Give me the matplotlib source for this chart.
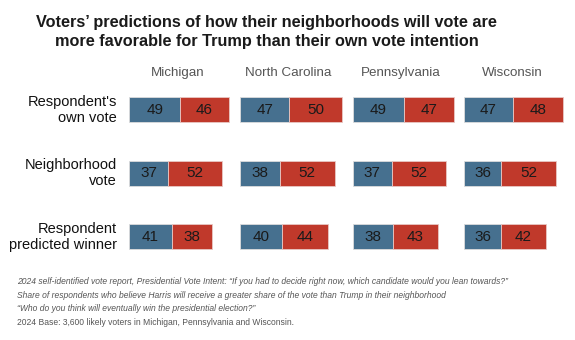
import matplotlib
matplotlib.use("Agg")
import matplotlib.pyplot as plt
from matplotlib.transforms import blended_transform_factory

states = ["Michigan", "North Carolina", "Pennsylvania", "Wisconsin"]
rows = ["Respondent's\nown vote", "Neighborhood\nvote", "Respondent\npredicted winner"]
harris = [
    [49, 37, 41],
    [47, 38, 40],
    [49, 37, 38],
    [47, 36, 36],
]
trump = [
    [46, 52, 38],
    [50, 52, 44],
    [47, 52, 43],
    [48, 52, 42],
]
title = ("Voters\u2019 predictions of how their neighborhoods will vote are\n"
         "more favorable for Trump than their own vote intention")
notes = [
    ("2024 self-identified vote report, Presidential Vote Intent: \u201cIf you had to decide right now, which candidate would you lean towards?\u201d", "italic"),
    ("Share of respondents who believe Harris will receive a greater share of the vote than Trump in their neighborhood", "italic"),
    ("\u201cWho do you think will eventually win the presidential election?\u201d", "italic"),
    ("2024 Base: 3,600 likely voters in Michigan, Pennsylvania and Wisconsin.", "normal"),
]

BLUE = "#46708f"
RED = "#c0392b"
W, H = 575, 340
plt.rcParams['font.family'] = ['Liberation Sans', 'DejaVu Sans']

fig = plt.figure(figsize=(W / 100, H / 100), dpi=100)
fig.patch.set_facecolor("white")

lefts = [129, 240, 352.7, 463.7]
ax_w = 105
top_px, bot_px = 78.3, 268.3
axes = []
for i, st in enumerate(states):
    ax = fig.add_axes([lefts[i] / W, 1 - bot_px / H, ax_w / W, (bot_px - top_px) / H])
    ax.set_xlim(0, 100)
    ax.set_ylim(2.5, -0.5)
    ax.axis("off")
    ypos = list(range(len(rows)))
    ax.barh(ypos, harris[i], height=0.395, color=BLUE, edgecolor="#dcdcdc", linewidth=0.6)
    ax.barh(ypos, trump[i], left=harris[i], height=0.395, color=RED, edgecolor="#e8c8c4", linewidth=0.6)
    for j in ypos:
        ax.text(harris[i][j] / 2, j, str(harris[i][j]), ha="center", va="center",
                fontsize=11, color="#1a1a1a")
        ax.text(harris[i][j] + trump[i][j] / 2, j, str(trump[i][j]), ha="center", va="center",
                fontsize=11, color="#1a1a1a")
    ax.text(46, 1.028, st, transform=blended_transform_factory(ax.transData, ax.transAxes),
            ha="center", va="center", fontsize=9.6, color="#555555")
    axes.append(ax)

ax0 = axes[0]
tr = blended_transform_factory(ax0.transAxes, ax0.transData)
for j, r in enumerate(rows):
    ax0.text((117 - 129) / ax_w, j, r, transform=tr, ha="right", va="center",
             fontsize=10.5, color="#111111", linespacing=1.2)

fig.text(266.5 / W, 1 - 32 / H, title, ha="center", va="center", fontsize=11.7,
         fontweight="bold", color="#1a1a1a", linespacing=1.35)

ys = [281.7, 295.2, 308.8, 322.4]
for (t, style), y in zip(notes, ys):
    fig.text(17 / W, 1 - y / H, t, ha="left", va="center", fontsize=6.15,
             style=style, color="#555555")

fig.savefig("out.png", dpi=100, facecolor="white")
